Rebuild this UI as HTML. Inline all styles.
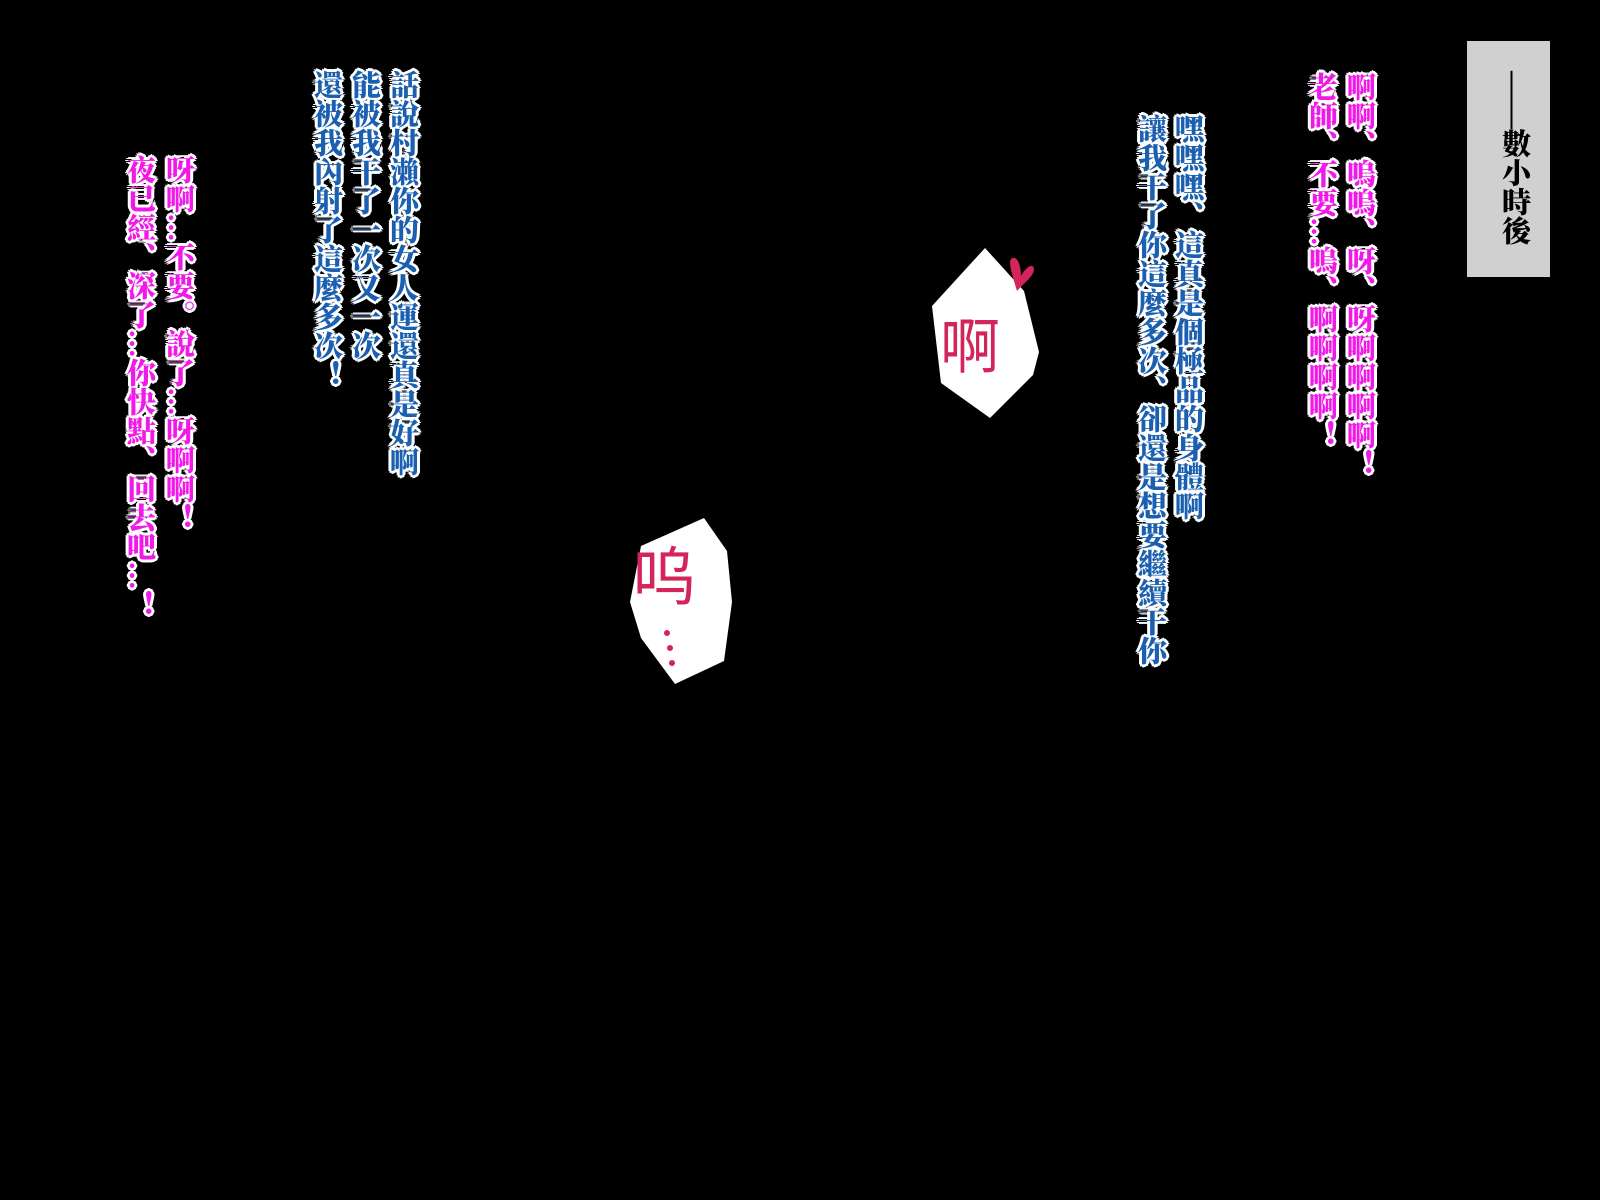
<!DOCTYPE html>
<html><head><meta charset="utf-8">
<style>
html,body{margin:0;padding:0;background:#000;}
body{width:1600px;height:1200px;position:relative;overflow:hidden;}
.c{position:absolute;writing-mode:vertical-rl;font-family:"Liberation Serif","Noto Serif CJK SC",serif;font-weight:900;font-size:29px;line-height:34px;letter-spacing:0px;white-space:nowrap;
text-shadow:2px 0 #fff,-2px 0 #fff,0 2px #fff,0 -2px #fff,2px 2px #fff,-2px -2px #fff,2px -2px #fff,-2px 2px #fff,3px 0 #fff,-3px 0 #fff,0 3px #fff,0 -3px #fff;}
.m{color:#f019e8;}
.b{color:#1a5fb0;}
.box{position:absolute;left:1467px;top:41px;width:83px;height:236px;background:#d0d0d0;}
.box span{position:absolute;left:27px;top:30px;writing-mode:vertical-rl;font-family:"Liberation Serif","Noto Serif CJK SC",serif;font-weight:900;font-size:29px;color:#000;}
</style></head><body>
<div class="box"><span>——數小時後</span></div>
<div class="c m" style="left:1342px;top:72px;">啊啊、嗚嗚、呀、呀啊啊啊啊！</div>
<div class="c m" style="left:1304px;top:72px;">老師、不要…嗚、啊啊啊啊！</div>
<div class="c b" style="left:1170px;top:114px;">嘿嘿嘿、這真是個極品的身體啊</div>
<div class="c b" style="left:1133px;top:114px;">讓我干了你這麼多次、卻還是想要繼續干你</div>
<div class="c b" style="left:385px;top:70px;">話說村瀨你的女人運還真是好啊</div>
<div class="c b" style="left:347px;top:70px;">能被我干了一次又一次</div>
<div class="c b" style="left:309px;top:70px;">還被我內射了這麼多次！</div>
<div class="c m" style="left:161px;top:155px;">呀啊…不要。說了…呀啊啊！</div>
<div class="c m" style="left:122px;top:155px;">夜已經、深了…你快點、回去吧…！</div>
<svg width="1600" height="1200" style="position:absolute;left:0;top:0">
<polygon points="985,248 1024,291 1039,352 1033,375 990,418 941,383 932,306" fill="#fff"/>
<text x="940" y="368" font-family="Liberation Sans, Noto Sans CJK SC, sans-serif" font-size="60" fill="#d4245c">啊</text>
<path d="M1017,291 C1011,271 1006,256 1015,258 C1019,260 1021,268 1021,276 C1025,268 1033,262 1034,269 C1034,276 1025,282 1017,291Z" fill="#d4245c"/>
<polygon points="704,518 727,551 732,602 724,661 675,684 641,638 630,602 641,546" fill="#fff"/>
<text x="632" y="600" font-family="Liberation Sans, Noto Sans CJK SC, sans-serif" font-size="64" fill="#d4245c">呜</text>
<circle cx="667" cy="633" r="3" fill="#d4245c"/><circle cx="670" cy="648" r="3" fill="#d4245c"/><circle cx="672" cy="663" r="3" fill="#d4245c"/>
</svg>
</body></html>
